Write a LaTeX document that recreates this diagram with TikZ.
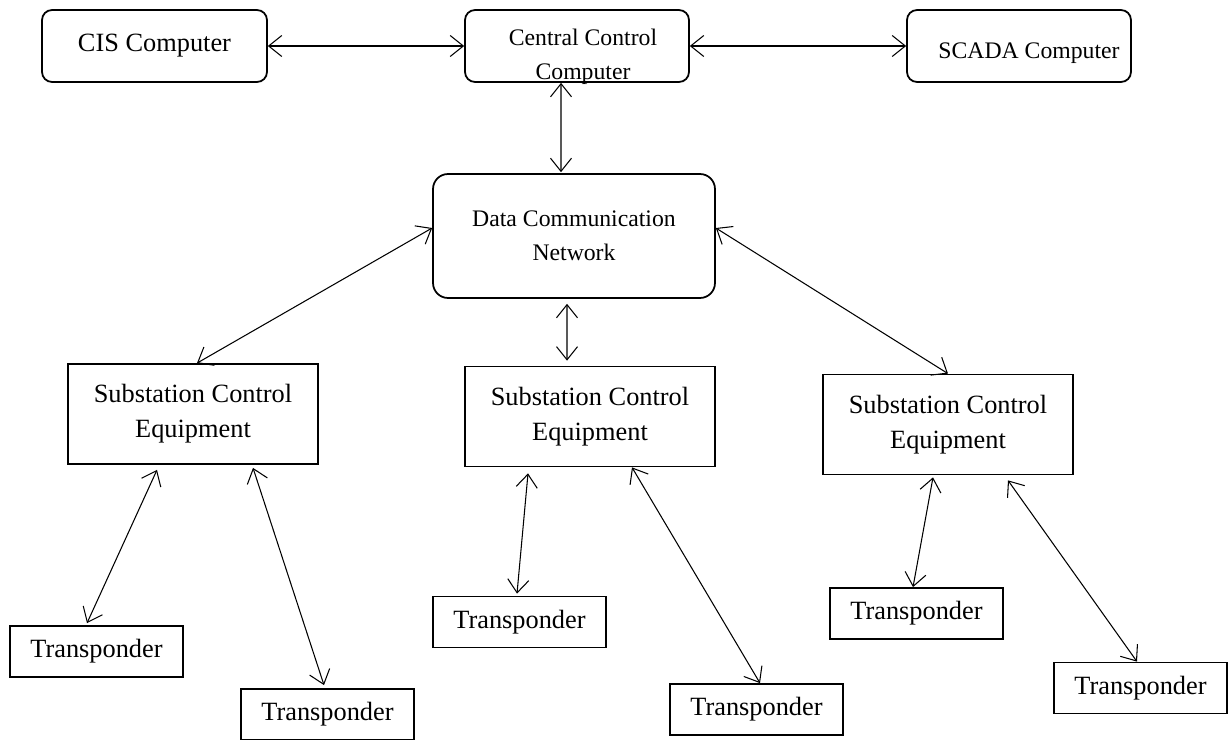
\documentclass[tikz,border=0pt]{standalone}
\usepackage{fontspec}
\setmainfont{Liberation Serif}
\usetikzlibrary{shapes,arrows.meta,positioning,calc}

\tikzset{
	pc/.style={rectangle, rounded corners=0.2cm, draw, line width=1pt, minimum width=4.48cm, minimum height=1.44cm},
	sce/.style={rectangle, draw, line width=1pt, minimum width=5cm, minimum height=2cm, align=center, font=\fontsize{15}{19.8}\selectfont},
	tr/.style={rectangle, draw, line width=1pt, minimum width=3.46cm, minimum height=1.02cm, font=\fontsize{15}{18}\selectfont},
	link/.style={line width=0.6pt, {Straight Barb[length=7.5pt,width=12pt]}-{Straight Barb[length=7.5pt,width=12pt]}}
}

\begin{document}
\begin{tikzpicture}[x=0.02cm, y=-0.02cm]
				\useasboundingbox (0,0) rectangle (1232,740);
				
				% top row
				\node[pc, minimum width=4.5cm, font=\fontsize{15}{18}\selectfont] (cis) at (154.5,46) {CIS Computer};
				\node[pc] (ccc) at (577,46) {};
				\node[font=\fontsize{13.5}{19.3}\selectfont, align=center] (ccctxt) at (583,56.5) {Central Control\\Computer};
				\node[pc] (scada) at (1019,46) {};
				\node[font=\fontsize{13.5}{16}\selectfont, anchor=base] (scadatxt) at (1029,59) {SCADA Computer};
				
				\node[pc, rounded corners=0.3cm, minimum width=5.64cm, minimum height=2.48cm, align=center, font=\fontsize{13.5}{19.3}\selectfont] (dcn) at (574,236) {Data Communication\\Network};
				
				% substations
				\node[sce] (sce1) at (193,414) {Substation Control\\Equipment};
				\node[sce] (sce2) at (590,416.5) {Substation Control\\Equipment};
				\node[sce] (sce3) at (948,424.5) {Substation Control\\Equipment};
				
				% transponders
				\node[tr] (t1a) at (96.5,651.5) {Transponder};
				\node[tr] (t1b) at (327.5,714.5) {Transponder};
				\node[tr] (t2a) at (519.5,622) {Transponder};
				\node[tr] (t2b) at (756.5,709.5) {Transponder};
				\node[tr] (t3a) at (916.5,613.5) {Transponder};
				\node[tr] (t3b) at (1140.5,688) {Transponder};
				
				\draw[link] (cis.east) -- (ccc.west);
				\draw[link] (ccc.east) -- (scada.west);
				\draw[link] ([xshift=-0.32cm]ccc.south) -- ([xshift=-0.26cm,yshift=0.02cm]dcn.north);
				\draw[link] ([xshift=-0.14cm,yshift=-0.1cm]dcn.south) -- ([xshift=-0.46cm,yshift=0.1cm]sce2.north);
				\draw[link] ([yshift=0.16cm]dcn.west) -- ([xshift=0.08cm]sce1.north);
				\draw[link] ([yshift=0.16cm]dcn.east) -- (sce3.north);
				
				\draw[link] ([xshift=-0.72cm,yshift=-0.1cm]sce1.south) -- ([xshift=-0.19cm,yshift=0.04cm]t1a.north);
				\draw[link] ([xshift=1.2cm,yshift=-0.06cm]sce1.south) -- ([xshift=-0.07cm,yshift=0.06cm]t1b.north);
				\draw[link] ([xshift=-1.24cm,yshift=-0.12cm]sce2.south) -- ([xshift=-0.05cm,yshift=0.04cm]t2a.north);
				\draw[link] ([xshift=0.84cm]sce2.south) -- ([xshift=0.07cm]t2b.north);
				\draw[link] ([xshift=-0.3cm,yshift=-0.04cm]sce3.south) -- ([xshift=-0.07cm]t3a.north);
				\draw[link] ([xshift=1.2cm,yshift=-0.1cm]sce3.south) -- ([xshift=-0.07cm]t3b.north);
			\end{tikzpicture}
\end{document}
